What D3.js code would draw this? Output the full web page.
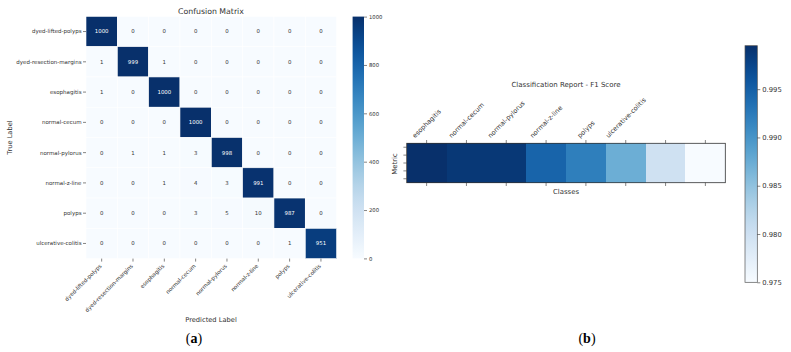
<!DOCTYPE html>
<html>
<head>
<meta charset="utf-8">
<script src="https://cdn.jsdelivr.net/npm/d3@7"></script>
<style>
  body { margin: 0; background: #fff; }
  svg { display: block; font-family: "DejaVu Sans", sans-serif; }
</style>
</head>
<body>
<svg id="chart" width="791" height="352"></svg>
<script>
// confusion matrix data (rows = true label, cols = predicted label)
const classes = ["dyed-lifted-polyps", "dyed-resection-margins", "esophagitis", "normal-cecum",
  "normal-pylorus", "normal-z-line", "polyps", "ulcerative-colitis"];
const matrix = [
  [1000, 0, 0, 0, 0, 0, 0, 0],
  [1, 999, 1, 0, 0, 0, 0, 0],
  [1, 0, 1000, 0, 0, 0, 0, 0],
  [0, 0, 0, 1000, 0, 0, 0, 0],
  [0, 1, 1, 3, 998, 0, 0, 0],
  [0, 0, 1, 4, 3, 991, 0, 0],
  [0, 0, 0, 3, 5, 10, 987, 0],
  [0, 0, 0, 0, 0, 0, 1, 951]
];
const cmTicks = [0, 200, 400, 600, 800, 1000];

// classification report (F1) data
const f1Scores = [0.9995, 0.9988, 0.9988, 0.9946, 0.9921, 0.9873, 0.9799, 0.9750];
const f1TickLabels = ["esophagitis", "normal-cecum", "normal-pylorus", "normal-z-line", "polyps", "ulcerative-colitis"];
const f1Ticks = [0.975, 0.980, 0.985, 0.990, 0.995];

const svg = d3.select("#chart");
const ink = "#333";

// ---------- (a) confusion matrix ----------
const x = d3.scaleBand().domain(classes).range([86, 336.6]);
const y = d3.scaleBand().domain(classes).range([16.4, 258.6]);
const color = d3.scaleSequential(d3.interpolateBlues).domain([0, 1000]);

const cells = [];
matrix.forEach((row, i) => row.forEach((v, j) => cells.push({ r: classes[i], c: classes[j], v: v })));

svg.append("g").selectAll("rect")
  .data(cells).enter().append("rect")
  .attr("x", d => x(d.c))
  .attr("y", d => y(d.r))
  .attr("width", x.bandwidth())
  .attr("height", y.bandwidth())
  .attr("fill", d => color(d.v))
  .attr("stroke", "#fff")
  .attr("stroke-width", 0.6);

svg.append("g").selectAll("text")
  .data(cells).enter().append("text")
  .attr("x", d => x(d.c) + x.bandwidth() / 2)
  .attr("y", d => y(d.r) + y.bandwidth() / 2)
  .attr("dy", "0.35em")
  .attr("text-anchor", "middle")
  .attr("font-size", 5.4)
  .attr("fill", d => d.v > 500 ? "#fff" : ink)
  .text(d => d.v);

// row tick labels
const rowAxis = svg.append("g");
classes.forEach(c => {
  const cy = y(c) + y.bandwidth() / 2;
  rowAxis.append("line").attr("x1", 83).attr("x2", 86).attr("y1", cy).attr("y2", cy)
    .attr("stroke", ink).attr("stroke-width", 0.6);
  rowAxis.append("text").attr("x", 81.5).attr("y", cy).attr("dy", "0.35em")
    .attr("text-anchor", "end").attr("font-size", 5.5).attr("fill", ink).text(c);
});

// column tick labels
const colAxis = svg.append("g");
classes.forEach(c => {
  const cx = x(c) + x.bandwidth() / 2;
  colAxis.append("line").attr("x1", cx).attr("x2", cx).attr("y1", 258.6).attr("y2", 261.6)
    .attr("stroke", ink).attr("stroke-width", 0.6);
  colAxis.append("text")
    .attr("transform", `translate(${cx - 1},${265}) rotate(-45)`)
    .attr("text-anchor", "end").attr("dy", "0.35em")
    .attr("font-size", 5.5).attr("fill", ink).text(c);
});

svg.append("text").attr("x", 211).attr("y", 14).attr("text-anchor", "middle")
  .attr("font-size", 7.8).attr("fill", ink).text("Confusion Matrix");
svg.append("text").attr("x", 211).attr("y", 322).attr("text-anchor", "middle")
  .attr("font-size", 6.7).attr("fill", ink).text("Predicted Label");
svg.append("text").attr("transform", "translate(12,137.5) rotate(-90)").attr("text-anchor", "middle")
  .attr("font-size", 6.7).attr("fill", ink).text("True Label");

// colorbar (a)
const defs = svg.append("defs");
function gradient(id) {
  const g = defs.append("linearGradient").attr("id", id)
    .attr("x1", 0).attr("y1", 1).attr("x2", 0).attr("y2", 0);
  d3.range(0, 1.0001, 0.05).forEach(t => {
    g.append("stop").attr("offset", t).attr("stop-color", d3.interpolateBlues(t));
  });
}
gradient("blues");

const cbA = d3.scaleLinear().domain([0, 1000]).range([258.4, 16.6]);
svg.append("rect").attr("x", 352.6).attr("y", 16.6).attr("width", 11.4).attr("height", 258.4 - 16.6)
  .attr("fill", "url(#blues)");
svg.append("g").attr("transform", "translate(364,0)")
  .call(d3.axisRight(cbA).tickValues(cmTicks).tickFormat(d3.format("d")).tickSize(3).tickPadding(2))
  .call(g => g.select(".domain").remove())
  .call(g => g.selectAll("line").attr("stroke", ink).attr("stroke-width", 0.6))
  .call(g => g.selectAll("text").attr("font-size", 5.3).attr("fill", ink).attr("font-family", "DejaVu Sans"));

// ---------- (b) F1 score ----------
const idx = d3.range(f1Scores.length);
const bx = d3.scaleBand().domain(idx).range([406.7, 725.3]);
const by = d3.scaleLinear().domain([-0.5, 0.5]).range([143.3, 182.7]);
const f1Ext = d3.extent(f1Scores);
const f1Color = d3.scaleSequential(d3.interpolateBlues).domain(f1Ext);

svg.append("g").attr("shape-rendering", "crispEdges").selectAll("rect")
  .data(f1Scores).enter().append("rect")
  .attr("x", (d, i) => bx(i))
  .attr("y", by(-0.5))
  .attr("width", bx.bandwidth() + 0.5)
  .attr("height", by(0.5) - by(-0.5))
  .attr("fill", d => f1Color(d));

svg.append("rect").attr("x", 406.7).attr("y", 143.3).attr("width", 725.3 - 406.7).attr("height", 182.7 - 143.3)
  .attr("fill", "none").attr("stroke", ink).attr("stroke-width", 0.8);

const bTicks = svg.append("g");
idx.forEach(i => {
  const cx = bx(i) + bx.bandwidth() / 2;
  bTicks.append("line").attr("x1", cx).attr("x2", cx).attr("y1", 143.3).attr("y2", 140)
    .attr("stroke", ink).attr("stroke-width", 0.6);
  bTicks.append("line").attr("x1", cx).attr("x2", cx).attr("y1", 182.7).attr("y2", 186)
    .attr("stroke", ink).attr("stroke-width", 0.6);
});
[-0.4, -0.2, 0, 0.2, 0.4].forEach(v => {
  bTicks.append("line").attr("x1", 403.4).attr("x2", 406.7).attr("y1", by(v)).attr("y2", by(v))
    .attr("stroke", ink).attr("stroke-width", 0.6);
});

// top labels, rotated 45 and centered over their tick
f1TickLabels.forEach((lab, i) => {
  const cx = bx(i) + bx.bandwidth() / 2;
  const t = bTicks.append("text").attr("text-anchor", "middle").attr("dy", "0.35em")
    .attr("font-size", 6.5).attr("fill", ink).text(lab);
  const L = t.node().getComputedTextLength();
  const h = 6.5;
  const cy = 139 - (L + h) * Math.SQRT1_2 / 2;
  t.attr("transform", `translate(${cx},${cy}) rotate(-45)`);
});

svg.append("text").attr("x", 566).attr("y", 87).attr("text-anchor", "middle")
  .attr("font-size", 7).attr("fill", ink).text("Classification Report - F1 Score");
svg.append("text").attr("x", 566).attr("y", 194).attr("text-anchor", "middle")
  .attr("font-size", 6.9).attr("fill", ink).text("Classes");
svg.append("text").attr("transform", "translate(397,164) rotate(-90)").attr("text-anchor", "middle")
  .attr("font-size", 6.9).attr("fill", ink).text("Metric");

// colorbar (b)
const cbB = d3.scaleLinear().domain(f1Ext).range([282.3, 45.7]);
svg.append("rect").attr("x", 745).attr("y", 45.7).attr("width", 12.3).attr("height", 282.3 - 45.7)
  .attr("fill", "url(#blues)").attr("stroke", "#555").attr("stroke-width", 0.7);
svg.append("g").attr("transform", "translate(757.3,0)")
  .call(d3.axisRight(cbB).tickValues(f1Ticks).tickFormat(d3.format(".3f")).tickSize(3).tickPadding(2))
  .call(g => g.select(".domain").remove())
  .call(g => g.selectAll("line").attr("stroke", ink).attr("stroke-width", 0.6))
  .call(g => g.selectAll("text").attr("font-size", 6.8).attr("fill", ink).attr("font-family", "DejaVu Sans"));

// panel captions
function caption(cx, letter) {
  const t = svg.append("text").attr("x", cx).attr("y", 343).attr("text-anchor", "middle")
    .attr("font-family", "'Liberation Serif', 'DejaVu Serif', serif").attr("font-size", 14).attr("fill", "#000");
  t.append("tspan").text("(");
  t.append("tspan").attr("font-weight", "bold").text(letter);
  t.append("tspan").text(")");
}
caption(194, "a");
caption(587, "b");
</script>
</body>
</html>
